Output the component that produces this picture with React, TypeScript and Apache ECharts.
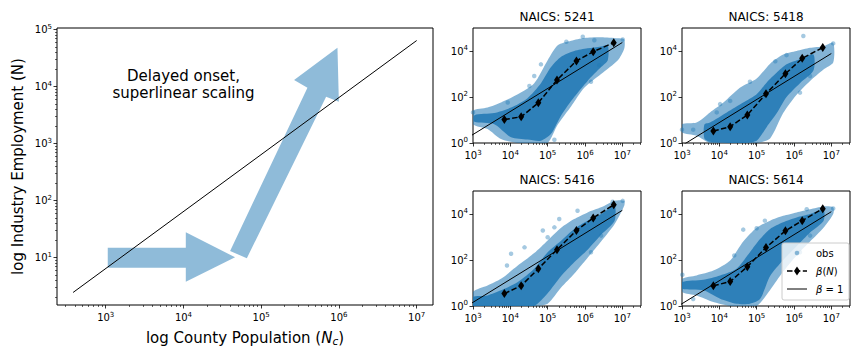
import React, { useEffect, useRef } from "react";
import * as echarts from "echarts";

const FONT = "DejaVu Sans";
const BLUE_A = "rgba(31,119,180,0.5)";

// ---------- Left panel (schematic), all values are log10 ----------
const leftRangeX = [2.373, 7.21];
const leftRangeY = [0.17, 5.03];
const leftTicksX = [3, 4, 5, 6, 7];
const leftTicksY = [1, 2, 3, 4, 5];
const leftUnitLine = [[2.58, 0.39], [7.0, 4.81]];
const arrowFlat = [[3.026, 1.175], [4.03, 1.175], [4.03, 1.446], [4.664, 1.007], [4.03, 0.579], [4.03, 0.825], [3.026, 0.825]];
const arrowSteep = [[4.6, 1.118], [5.595, 3.982], [5.423, 4.118], [5.981, 4.684], [5.999, 3.737], [5.835, 3.825], [4.815, 0.99]];
const annotationPos = [4.0, 4.04];
const annotationText = "Delayed onset,\nsuperlinear scaling";

// ---------- Small panels (log10 county population, log10 employment) ----------
const panelCodes = ["5241", "5418", "5416", "5614"];
const smallRangeX = [3, 7.5];
const smallRangeY = [0, 5];
const smallTicksX = [3, 4, 5, 6, 7];
const smallTicksY = [0, 2, 4];
const binLogPop = [3.84, 4.29, 4.75, 5.25, 5.77, 6.22, 6.77];
const beta5241 = [1.02, 1.14, 1.75, 2.74, 3.57, 3.97, 4.36];
const beta5418 = [0.52, 0.71, 1.22, 2.14, 3.01, 3.68, 4.15];
const beta5416 = [0.54, 0.88, 1.62, 2.45, 3.28, 3.83, 4.4];
const beta5614 = [0.88, 1.06, 1.71, 2.54, 3.27, 3.71, 4.23];
const unit5241 = [[2.5, -0.13], [7.0, 4.37]];
const unit5418 = [[2.5, -0.61], [7.0, 3.89]];
const unit5416 = [[2.5, -0.34], [7.0, 4.16]];
const unit5614 = [[2.5, -0.4], [7.0, 4.1]];
// point cloud envelopes: [log10 Nc, low, high]
const cloudOuter5241 = [[3.0, 0.82, 1.4], [3.39, 0.61, 1.54], [3.75, 0.17, 1.76], [4.2, 0, 2.12], [4.64, 0, 2.6], [5.0, 0, 3.6], [5.27, 0.8, 4.25], [5.63, 1.6, 4.45], [5.98, 2.4, 4.57], [6.43, 3.0, 4.6], [6.88, 3.6, 4.55], [7.05, 4.1, 4.5]];
const cloudInner5241 = [[3.04, 0.92, 1.21], [3.57, 0.82, 1.3], [4.02, 0.25, 1.54], [4.46, 0.15, 1.95], [4.82, 0.1, 2.6], [5.09, 0.4, 3.3], [5.36, 1.2, 3.75], [5.71, 2.0, 4.0], [6.07, 2.7, 4.12], [6.43, 3.3, 4.2], [6.61, 3.6, 4.25]];
const cloudOuter5418 = [[3.0, 0.46, 0.82], [3.39, 0.32, 0.89], [3.75, 0, 1.33], [4.11, 0, 1.76], [4.55, 0, 2.4], [5.0, 0, 2.8], [5.36, 0.2, 3.45], [5.71, 1.3, 3.85], [6.07, 2.1, 4.0], [6.43, 2.7, 4.14], [6.79, 3.2, 4.21], [7.05, 3.5, 4.36]];
const cloudInner5418 = [[3.6, 0.2, 0.8], [3.75, 0.05, 0.89], [4.2, 0, 1.33], [4.64, 0, 1.76], [5.0, 0.1, 2.12], [5.27, 0.7, 2.63], [5.54, 1.3, 3.06], [5.8, 2.0, 3.42], [6.16, 2.6, 3.64], [6.52, 3.15, 3.85]];
const cloudOuter5416 = [[3.0, 0, 0.61], [3.39, 0, 0.89], [3.75, 0, 1.18], [4.2, 0, 1.76], [4.64, 0, 2.3], [5.0, 0.1, 2.85], [5.36, 0.8, 3.4], [5.71, 1.4, 3.78], [6.07, 2.1, 4.07], [6.43, 2.8, 4.29], [6.79, 3.55, 4.57], [7.05, 4.36, 4.57]];
const cloudInner5416 = [[3.0, 0, 0.39], [3.39, 0, 0.46], [3.75, 0, 0.68], [4.2, 0, 1.04], [4.64, 0, 1.62], [5.0, 0.55, 2.34], [5.36, 1.3, 2.84], [5.71, 1.9, 3.35], [6.07, 2.45, 3.71], [6.43, 3.1, 4.0], [6.79, 3.7, 4.36]];
const cloudOuter5614 = [[3.01, 0.61, 1.18], [3.39, 0.46, 1.33], [3.84, 0.17, 1.54], [4.29, 0, 1.98], [4.64, 0, 2.8], [5.0, 0, 3.4], [5.36, 0.7, 3.71], [5.71, 1.5, 3.92], [6.07, 2.2, 4.07], [6.43, 2.8, 4.21], [6.79, 3.4, 4.33], [7.05, 4.0, 4.29]];
const cloudInner5614 = [[3.01, 0.75, 1.04], [3.57, 0.68, 1.14], [4.02, 0.32, 1.33], [4.46, 0.1, 1.62], [4.82, 0.1, 2.34], [5.09, 0.3, 2.91], [5.36, 1.3, 3.35], [5.71, 2.0, 3.64], [6.07, 2.6, 3.85], [6.43, 3.2, 4.0], [6.79, 3.7, 4.18]];
// scattered observations outside the dense cloud
const obs5241 = [[5.94, 4.62], [7.01, 4.5], [6.25, 4.47], [6.16, 2.66], [5.18, 0.14], [6.38, 3.38], [4.64, 2.91], [4.51, 2.48], [4.82, 3.42], [3.93, 1.76], [3.0, 1.33], [5.5, 4.4]];
const obs5418 = [[6.25, 4.65], [7.05, 4.33], [5.8, 3.82], [6.43, 2.91], [6.16, 2.19], [4.02, 1.69], [4.29, 1.83], [4.82, 2.66], [3.93, 1.33], [3.0, 0.58], [3.3, 0.58], [5.5, 3.55]];
const obs5416 = [[4.02, 2.27], [3.91, 1.76], [4.87, 3.28], [5.18, 3.42], [5.0, 2.99], [5.8, 4.14], [6.16, 2.34], [6.43, 3.06], [7.01, 4.57], [6.74, 4.53], [5.31, 3.78], [4.38, 2.55]];
const obs5614 = [[3.01, 1.36], [4.64, 3.32], [5.0, 3.38], [6.34, 4.21], [7.05, 4.24], [6.16, 2.34], [6.43, 3.06], [5.22, 3.71], [4.4, 2.2], [3.3, 0.3]];

const panels = [
  { beta: beta5241, unit: unit5241, outer: cloudOuter5241, inner: cloudInner5241, obs: obs5241 },
  { beta: beta5418, unit: unit5418, outer: cloudOuter5418, inner: cloudInner5418, obs: obs5418 },
  { beta: beta5416, unit: unit5416, outer: cloudOuter5416, inner: cloudInner5416, obs: obs5416 },
  { beta: beta5614, unit: unit5614, outer: cloudOuter5614, inner: cloudInner5614, obs: obs5614 },
];

// layout
const GRID_RECTS = [
  { left: 57, top: 28, width: 376, height: 277 },
  { left: 473, top: 28, width: 168, height: 115 },
  { left: 682, top: 28, width: 168, height: 115 },
  { left: 473, top: 191, width: 168, height: 115 },
  { left: 682, top: 191, width: 168, height: 115 },
];

const TICK_RICH = {
  b: { fontSize: 10, fontFamily: FONT, color: "#000", lineHeight: 13 },
  s: { fontSize: 7, fontFamily: FONT, color: "#000", lineHeight: 8, verticalAlign: "top" },
};

function minorLogTicks(range: number[]) {
  const out: number[] = [];
  for (let e = Math.floor(range[0]); e <= Math.ceil(range[1]); e++) {
    for (let k = 2; k <= 9; k++) {
      const v = e + Math.log10(k);
      if (v >= range[0] && v <= range[1]) out.push(v);
    }
  }
  return out;
}

function mainAxis(dim: string, g: number, range: number[], ticks: number[], extra: any = {}) {
  return {
    type: "value",
    gridIndex: g,
    min: range[0],
    max: range[1],
    position: dim === "x" ? "bottom" : "left",
    axisLine: { show: false, onZero: false },
    axisTick: { show: true, customValues: ticks, length: 3.5, lineStyle: { color: "#000", width: 0.8 } },
    axisLabel: {
      show: true,
      customValues: ticks,
      margin: dim === "x" ? 6 : 5,
      formatter: (v: number) => `{b|10}{s|${Math.round(v)}}`,
      rich: TICK_RICH,
    },
    splitLine: { show: false },
    ...extra,
  };
}

function minorAxis(dim: string, g: number, range: number[], ticks: number[]) {
  return {
    type: "value",
    gridIndex: g,
    min: range[0],
    max: range[1],
    position: dim === "x" ? "bottom" : "left",
    axisLine: { show: false, onZero: false },
    axisTick: { show: ticks.length > 0, customValues: ticks, length: 2, lineStyle: { color: "#000", width: 0.6 } },
    axisLabel: { show: false },
    splitLine: { show: false },
  };
}

function polygonSeries(g: number, polys: number[][][], fill: string, z: number, smooth = 0) {
  return {
    type: "custom",
    xAxisIndex: 2 * g,
    yAxisIndex: 2 * g,
    silent: true,
    clip: true,
    z,
    data: polys.map((p, i) => [p[0][0], p[0][1], i]),
    renderItem: (params: any, api: any) => {
      const pts = polys[params.dataIndex].map((p) => api.coord(p));
      return { type: "polygon", shape: { points: pts, smooth }, style: { fill } };
    },
  };
}

function bandToPolygon(band: number[][]) {
  const top = band.map((r) => [r[0], r[2]]);
  const bottom = band.map((r) => [r[0], r[1]]).reverse();
  return top.concat(bottom);
}

function buildOption() {
  const grid = GRID_RECTS.map((r) => ({
    ...r,
    show: true,
    borderColor: "#000",
    borderWidth: 1,
    backgroundColor: "transparent",
    containLabel: false,
    outerBoundsMode: "none",
  }));

  const xAxis: any[] = [];
  const yAxis: any[] = [];
  // left panel
  xAxis.push(
    mainAxis("x", 0, leftRangeX, leftTicksX, {
      name: "log County Population ({i|N}{sub|c})",
      nameLocation: "middle",
      nameGap: 24,
      nameMoveOverlap: false,
      nameTextStyle: {
        fontSize: 15,
        fontFamily: FONT,
        color: "#000",
        verticalAlign: "top",
        rich: {
          i: { fontSize: 15, fontFamily: FONT, fontStyle: "italic", color: "#000" },
          sub: { fontSize: 10.5, fontFamily: FONT, fontStyle: "italic", color: "#000", verticalAlign: "bottom", padding: [6, 0, 0, 0] },
        },
      },
    })
  );
  xAxis.push(minorAxis("x", 0, leftRangeX, minorLogTicks(leftRangeX)));
  yAxis.push(
    mainAxis("y", 0, leftRangeY, leftTicksY, {
      name: "log Industry Employment (N)",
      nameLocation: "middle",
      nameGap: 32,
      nameMoveOverlap: false,
      nameTextStyle: { fontSize: 15, fontFamily: FONT, color: "#000" },
    })
  );
  yAxis.push(minorAxis("y", 0, leftRangeY, minorLogTicks(leftRangeY)));
  for (let i = 0; i < panels.length; i++) {
    const g = i + 1;
    xAxis.push(mainAxis("x", g, smallRangeX, smallTicksX));
    xAxis.push(minorAxis("x", g, smallRangeX, minorLogTicks(smallRangeX)));
    yAxis.push(mainAxis("y", g, smallRangeY, smallTicksY));
    yAxis.push(minorAxis("y", g, smallRangeY, []));
  }

  const series: any[] = [];
  // left schematic
  series.push(polygonSeries(0, [arrowFlat, arrowSteep], BLUE_A, 2));
  series.push({
    type: "line",
    xAxisIndex: 0,
    yAxisIndex: 0,
    data: leftUnitLine,
    symbol: "none",
    lineStyle: { color: "#000", width: 1 },
    z: 3,
    silent: true,
  });
  series.push({
    type: "custom",
    xAxisIndex: 0,
    yAxisIndex: 0,
    silent: true,
    z: 4,
    data: [annotationPos],
    renderItem: (params: any, api: any) => {
      const p = api.coord([api.value(0), api.value(1)]);
      return {
        type: "text",
        x: p[0],
        y: p[1],
        style: {
          text: annotationText,
          fontSize: 15,
          fontFamily: FONT,
          fill: "#000",
          align: "center",
          verticalAlign: "middle",
          textAlign: "center",
          textVerticalAlign: "middle",
          lineHeight: 17,
        },
      };
    },
  });

  panels.forEach((p, i) => {
    const g = i + 1;
    series.push(polygonSeries(g, [bandToPolygon(p.outer)], "rgba(31,119,180,0.55)", 1, 0.25));
    series.push(polygonSeries(g, [bandToPolygon(p.inner)], "rgba(31,119,180,0.85)", 2, 0.25));
    series.push({
      type: "scatter",
      name: "obs",
      xAxisIndex: 2 * g,
      yAxisIndex: 2 * g,
      data: p.obs,
      symbolSize: 4.5,
      itemStyle: { color: BLUE_A },
      z: 3,
      silent: true,
    });
    series.push({
      type: "line",
      xAxisIndex: 2 * g,
      yAxisIndex: 2 * g,
      data: p.unit,
      symbol: "none",
      lineStyle: { color: "#000", width: 1 },
      z: 4,
      silent: true,
    });
    series.push({
      type: "line",
      xAxisIndex: 2 * g,
      yAxisIndex: 2 * g,
      data: binLogPop.map((x, k) => [x, p.beta[k]]),
      symbol: "diamond",
      symbolSize: [6, 9],
      itemStyle: { color: "#000" },
      lineStyle: { color: "#000", width: 1.5, type: [5.5, 2.4] },
      z: 5,
      silent: true,
    });
  });

  const graphic: any[] = [];
  panelCodes.forEach((code, i) => {
    const r = GRID_RECTS[i + 1];
    graphic.push({
      type: "text",
      x: r.left + r.width / 2,
      y: r.top - 11,
      silent: true,
      style: {
        text: "NAICS: " + code,
        fontSize: 12,
        fontFamily: FONT,
        fill: "#000",
        align: "center",
        verticalAlign: "middle",
        textAlign: "center",
        textVerticalAlign: "middle",
      },
    });
  });
  // legend (inside last panel)
  const lg = { x: 782, y: 243, w: 67, h: 57 };
  const rows = [lg.y + 10, lg.y + 28, lg.y + 46];
  const mx = lg.x + 15;
  graphic.push({
    type: "rect",
    shape: { x: lg.x, y: lg.y, width: lg.w, height: lg.h, r: 2 },
    style: { fill: "rgba(255,255,255,0.8)", stroke: "#cccccc", lineWidth: 1 },
    z: 100,
    silent: true,
  });
  graphic.push({ type: "circle", shape: { cx: mx, cy: rows[0], r: 2.3 }, style: { fill: BLUE_A }, z: 101, silent: true });
  graphic.push({
    type: "line",
    shape: { x1: mx - 10, y1: rows[1], x2: mx + 10, y2: rows[1] },
    style: { stroke: "#000", lineWidth: 1.5, lineDash: [5.5, 2.4] },
    z: 101,
    silent: true,
  });
  graphic.push({
    type: "polygon",
    shape: { points: [[mx, rows[1] - 4.5], [mx + 3, rows[1]], [mx, rows[1] + 4.5], [mx - 3, rows[1]]] },
    style: { fill: "#000" },
    z: 102,
    silent: true,
  });
  graphic.push({
    type: "line",
    shape: { x1: mx - 10, y1: rows[2], x2: mx + 10, y2: rows[2] },
    style: { stroke: "#000", lineWidth: 1 },
    z: 101,
    silent: true,
  });
  const legendTexts = ["obs", "{i|β}({i|N})", "{i|β} = 1"];
  legendTexts.forEach((t, k) => {
    graphic.push({
      type: "text",
      x: lg.x + 34,
      y: rows[k],
      z: 101,
      silent: true,
      style: {
        text: t,
        fontSize: 10,
        fontFamily: FONT,
        fill: "#000",
        verticalAlign: "middle",
        textVerticalAlign: "middle",
        rich: { i: { fontSize: 10, fontFamily: FONT, fontStyle: "italic", fill: "#000", color: "#000" } },
      },
    });
  });

  return {
    animation: false,
    backgroundColor: "#fff",
    grid,
    xAxis,
    yAxis,
    series,
    graphic,
  };
}

export default function App() {
  const ref = useRef<HTMLDivElement>(null);
  useEffect(() => {
    const chart = echarts.init(ref.current!, null, { renderer: "svg" });
    chart.setOption(buildOption() as any);
    return () => chart.dispose();
  }, []);
  return (
    <div
      ref={ref}
      style={{ position: "fixed", left: 0, top: 0, width: 864, height: 360, background: "#fff" }}
    />
  );
}
